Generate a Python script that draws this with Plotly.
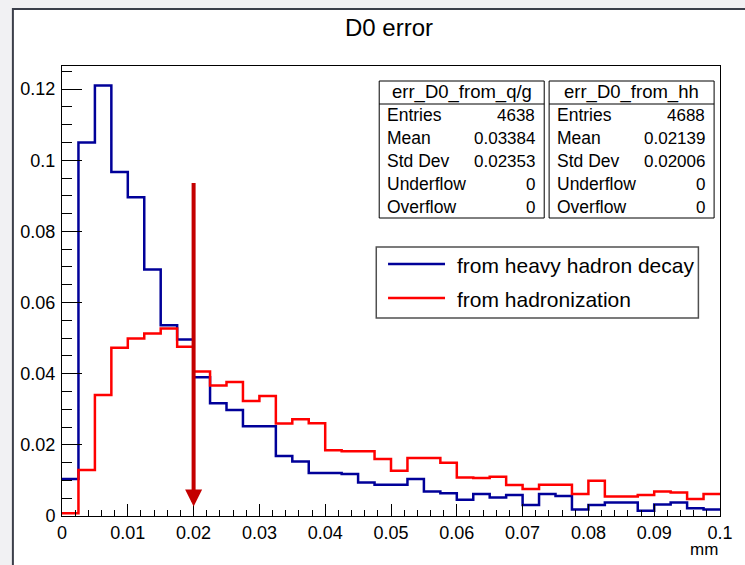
import plotly.graph_objects as go

# ---------------- data ----------------
bin_lo, bin_hi, n_bins = 0.0, 0.1, 40

hh_values = [0.0104, 0.105, 0.121, 0.0967, 0.0896, 0.0693, 0.0536, 0.0496, 0.039, 0.0317,
             0.0298, 0.0252, 0.0252, 0.0169, 0.0153, 0.0121, 0.0121, 0.0118, 0.0094, 0.0088,
             0.0088, 0.0104, 0.0069, 0.0064, 0.0046, 0.0062, 0.0052, 0.0059, 0.0031, 0.0062,
             0.0056, 0.0018, 0.0031, 0.0038, 0.0038, 0.0015, 0.0032, 0.0038, 0.0022, 0.0018]

qg_values = [0.0008, 0.0129, 0.034, 0.0473, 0.0499, 0.0513, 0.0527, 0.0476, 0.0406, 0.0367,
             0.0377, 0.0323, 0.0337, 0.026, 0.0272, 0.0261, 0.0185, 0.0182, 0.0182, 0.016,
             0.0127, 0.0163, 0.0163, 0.015, 0.0108, 0.0107, 0.011, 0.0087, 0.0076, 0.0088,
             0.0088, 0.0062, 0.0099, 0.0055, 0.0055, 0.0059, 0.0069, 0.0066, 0.0048, 0.0062]

x_ticks = [0, 0.01, 0.02, 0.03, 0.04, 0.05, 0.06, 0.07, 0.08, 0.09, 0.1]
x_tick_text = ["0", "0.01", "0.02", "0.03", "0.04", "0.05", "0.06", "0.07", "0.08", "0.09", "0.1"]
y_ticks = [0, 0.02, 0.04, 0.06, 0.08, 0.1, 0.12]
y_tick_text = ["0", "0.02", "0.04", "0.06", "0.08", "0.1", "0.12"]

stat_labels = ["Entries", "Mean", "Std Dev", "Underflow", "Overflow"]
qg_name = "err_D0_from_q/g"
qg_stats = ["4638", "0.03384", "0.02353", "0", "0"]
hh_name = "err_D0_from_hh"
hh_stats = ["4688", "0.02139", "0.02006", "0", "0"]

legend_labels = ["from heavy hadron decay", "from hadronization"]
title_text = "D0 error"
x_title = "mm"

arrow_x = 0.02
arrow_top = 0.094
arrow_tip = 0.0027

# ---------------- styles ----------------
BLUE = "#000099"
RED = "#ff0000"
ARROW = "#c40000"
FONT = "Liberation Sans, Arial, Helvetica, sans-serif"

W, H = 745, 565
L, R, T, B = 62, 13, 66, 49
PW, PH = W - L - R, H - T - B


def px(xp):
    return (xp - L) / PW


def py(yp):
    return (H - B - yp) / PH


width = (bin_hi - bin_lo) / n_bins
edges = [bin_lo + i * width for i in range(n_bins + 1)]

fig = go.Figure()
fig.add_trace(go.Scatter(x=edges, y=hh_values + [hh_values[-1]], mode="lines",
                         line=dict(color=BLUE, width=2.5, shape="hv"), name=legend_labels[0],
                         showlegend=False, hoverinfo="skip"))
fig.add_trace(go.Scatter(x=edges, y=qg_values + [qg_values[-1]], mode="lines",
                         line=dict(color=RED, width=2.5, shape="hv"), name=legend_labels[1],
                         showlegend=False, hoverinfo="skip"))

shapes = []
annotations = []

# canvas frame
shapes.append(dict(type="rect", xref="paper", yref="paper", x0=px(12), x1=px(800), y0=py(9), y1=py(620),
                   fillcolor="white", line=dict(color="#3b3f4a", width=2), layer="below"))

# title
annotations.append(dict(xref="paper", yref="paper", x=px(395), y=py(28), text=title_text, showarrow=False,
                        xanchor="center", yanchor="middle", font=dict(size=24, color="black", family=FONT)))
# x title
annotations.append(dict(xref="paper", yref="paper", x=px(732), y=py(549), text=x_title, showarrow=False,
                        xanchor="right", yanchor="middle", font=dict(size=17, color="black", family=FONT)))

# stats boxes
box_top, box_bot, sep_y = 81, 218, 104
head_y = 92
row_y = [115, 138, 161, 184, 207]
for (x0, x1, name, vals) in [(385, 553, qg_name, qg_stats), (558, 726, hh_name, hh_stats)]:
    shapes.append(dict(type="rect", xref="paper", yref="paper", x0=px(x0), x1=px(x1), y0=py(box_bot),
                       y1=py(box_top), fillcolor="white", line=dict(color="black", width=1)))
    shapes.append(dict(type="line", xref="paper", yref="paper", x0=px(x0), x1=px(x1), y0=py(sep_y),
                       y1=py(sep_y), line=dict(color="black", width=1)))
    annotations.append(dict(xref="paper", yref="paper", x=px((x0 + x1) / 2), y=py(head_y), text=name,
                            showarrow=False, xanchor="center", yanchor="middle",
                            font=dict(size=18.5, color="black", family=FONT)))
    for lab, val, yy in zip(stat_labels, vals, row_y):
        annotations.append(dict(xref="paper", yref="paper", x=px(x0 + 6), y=py(yy), text=lab,
                                showarrow=False, xanchor="left", yanchor="middle",
                                font=dict(size=17.5, color="black", family=FONT)))
        annotations.append(dict(xref="paper", yref="paper", x=px(x1 - 7), y=py(yy), text=val,
                                showarrow=False, xanchor="right", yanchor="middle",
                                font=dict(size=17, color="black", family=FONT)))

# legend
shapes.append(dict(type="rect", xref="paper", yref="paper", x0=px(382), x1=px(710), y0=py(318), y1=py(247),
                   fillcolor="white", line=dict(color="#505050", width=1.5)))
for lab, col, yy in zip(legend_labels, [BLUE, RED], [264, 298]):
    shapes.append(dict(type="line", xref="paper", yref="paper", x0=px(394), x1=px(452), y0=py(yy), y1=py(yy),
                       line=dict(color=col, width=2.5)))
    annotations.append(dict(xref="paper", yref="paper", x=px(462), y=py(yy + 1), text=lab, showarrow=False,
                            xanchor="left", yanchor="middle", font=dict(size=21, color="black", family=FONT)))

# arrow
annotations.append(dict(x=arrow_x, y=arrow_tip, ax=arrow_x, ay=arrow_top, xref="x", yref="y", axref="x",
                        ayref="y", text="", showarrow=True, arrowhead=2, arrowsize=0.85, arrowwidth=4,
                        arrowcolor=ARROW))

fig.update_layout(
    width=W, height=H, autosize=False,
    margin=dict(l=L, r=R, t=T, b=B, pad=0),
    paper_bgcolor="#f1f1f3", plot_bgcolor="white",
    font=dict(family=FONT, color="black", size=18),
    shapes=shapes, annotations=annotations, showlegend=False,
)
fig.update_xaxes(range=[bin_lo, bin_hi], tickvals=x_ticks, ticktext=x_tick_text, ticks="inside", ticklen=12,
                 tickwidth=1, tickcolor="black", showline=True, linecolor="black", linewidth=1, mirror=True,
                 showgrid=False, zeroline=False, tickfont=dict(size=18), ticklabeloverflow="allow",
                 minor=dict(dtick=0.002, ticks="inside", ticklen=6, tickcolor="black", tickwidth=1, showgrid=False))
fig.update_yaxes(range=[0, 0.1265], tickvals=y_ticks, ticktext=y_tick_text, ticks="inside", ticklen=20,
                 tickwidth=1, tickcolor="black", showline=True, linecolor="black", linewidth=1, mirror=True,
                 showgrid=False, zeroline=False, tickfont=dict(size=18), ticklabelstandoff=2,
                 ticklabeloverflow="allow",
                 minor=dict(dtick=0.005, ticks="inside", ticklen=10, tickcolor="black", tickwidth=1, showgrid=False))

fig.write_html("out.html")
